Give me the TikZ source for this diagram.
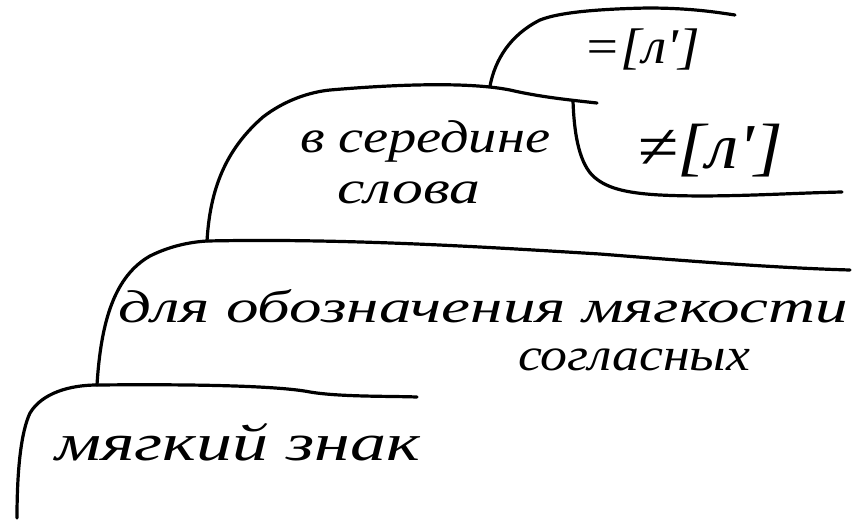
\documentclass[tikz,border=0pt]{standalone}
\usepackage{fontspec}
\usepackage{graphicx}
\newfontfamily\hand{Liberation Serif Italic}
\newcommand{\hw}[2]{\resizebox{#1}{\height}{#2}}
\usetikzlibrary{positioning}

\begin{document}
\begin{tikzpicture}[x=1pt, y=-1pt,
  stroke/.style={line width=3.2pt, line cap=round, line join=round},
  lbl/.style={inner sep=0pt, anchor=base west, font=\hand\fontsize{#1}{#1}\selectfont},
  lbl/.default=46]

\useasboundingbox (0,0) rectangle (859,523);

% junctions where one bracket grows out of the line below it
\coordinate (jA) at (97,385);
\coordinate (jB) at (207,241);
\coordinate (jC) at (490,86);
\coordinate (jD) at (573,101);

% bracket: мягкий знак
\draw[stroke] (17,518) .. controls (17,470) and (21,432) .. (30,413)
  .. controls (42,393) and (70,385) .. (jA)
  .. controls (200,384) and (280,386) .. (310,392)
  .. controls (340,397) and (390,396) .. (417,397);
% bracket: для обозначения мягкости согласных
\draw[stroke] (jA) .. controls (101,320) and (115,276) .. (150,256)
  .. controls (170,246) and (190,242) .. (jB)
  .. controls (350,238) and (500,248) .. (600,254)
  .. controls (700,262) and (780,268) .. (850,270);
% bracket: в середине слова
\draw[stroke] (jB) .. controls (210,190) and (225,150) .. (263,117)
  .. controls (285,100) and (310,92) .. (330,90)
  .. controls (400,84) and (470,82) .. (510,90)
  .. controls (540,97) and (570,100) .. (597,103);
% bracket: =[л']
\draw[stroke] (jC) .. controls (495,60) and (510,35) .. (540,20)
  .. controls (560,12) and (600,9) .. (647,8)
  .. controls (690,8) and (715,12) .. (735,15);
% bracket: ≠[л']
\draw[stroke] (jD) .. controls (574,130) and (578,160) .. (592,175)
  .. controls (605,188) and (625,193) .. (660,195)
  .. controls (720,198) and (790,193) .. (842,192);

\node[lbl=52] (znak) at (55,460) {\hw{365pt}{мягкий знак}};
\node[lbl] (oboz) at (118,322) {\hw{730pt}{для обозначения мягкости}};
\node[lbl] (sogl) at (518,370) {\hw{232pt}{согласных}};
\node[lbl] (sered) at (300,152) {\hw{250pt}{в середине}};
\node[lbl] (slova) at (337,203) {\hw{143pt}{слова}};
\node[lbl=50] (eq) at (583,63) {\hw{117pt}{=[л']}};
\node[lbl=64] (neq) at (637,168) {\hw{146pt}{≠[л']}};
\end{tikzpicture}
\end{document}
